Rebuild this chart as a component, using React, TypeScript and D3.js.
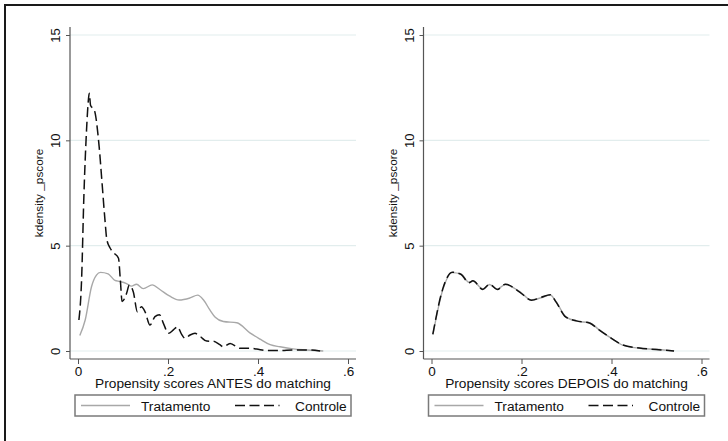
import React, { useRef, useEffect } from 'react';
import * as d3 from 'd3';

type Pt = [number, number];

// kernel density estimates: [pscore, density]
const tratamentoAntes: Pt[] = [
  [0.004, 0.74], [0.016, 1.47], [0.030, 3.05], [0.041, 3.6], [0.050, 3.73], [0.067, 3.66],
  [0.082, 3.35], [0.093, 3.3], [0.108, 3.2], [0.119, 3.08], [0.130, 3.17], [0.145, 2.96],
  [0.165, 3.14], [0.182, 2.92], [0.204, 2.6], [0.225, 2.42], [0.249, 2.52], [0.266, 2.65],
  [0.279, 2.42], [0.293, 1.95], [0.305, 1.6], [0.323, 1.4], [0.353, 1.34], [0.382, 0.86],
  [0.405, 0.56], [0.427, 0.3], [0.449, 0.2], [0.478, 0.1], [0.508, 0.05], [0.545, 0.0],
];

const controleAntes: Pt[] = [
  [0.002, 1.47], [0.008, 3.4], [0.013, 7.3], [0.019, 10.5], [0.023, 11.9], [0.025, 12.23],
  [0.028, 11.65], [0.036, 11.45], [0.047, 9.7], [0.053, 8.1], [0.060, 6.2], [0.064, 5.3],
  [0.071, 4.9], [0.080, 4.65], [0.090, 4.4], [0.094, 3.4], [0.098, 2.35], [0.108, 2.74],
  [0.114, 3.13], [0.123, 2.8], [0.132, 1.86], [0.141, 2.1], [0.149, 1.86], [0.160, 1.23],
  [0.171, 1.63], [0.181, 1.72], [0.190, 1.3], [0.201, 0.84], [0.212, 1.0], [0.221, 1.15],
  [0.230, 0.8], [0.238, 0.6], [0.249, 0.76], [0.260, 0.84], [0.271, 0.7], [0.286, 0.47],
  [0.301, 0.46], [0.315, 0.3], [0.323, 0.2], [0.338, 0.36], [0.360, 0.13], [0.382, 0.13],
  [0.397, 0.09], [0.419, 0.02], [0.449, 0.02], [0.478, 0.05], [0.508, 0.05], [0.538, 0.0],
];

const tratamentoDepois: Pt[] = [
  [0.003, 0.76], [0.025, 2.9], [0.046, 3.72], [0.066, 3.65], [0.083, 3.26], [0.092, 3.32],
  [0.114, 2.94], [0.129, 3.16], [0.146, 2.93], [0.164, 3.16], [0.196, 2.82], [0.222, 2.42],
  [0.244, 2.53], [0.264, 2.66], [0.277, 2.34], [0.298, 1.63], [0.322, 1.42], [0.351, 1.34],
  [0.373, 1.0], [0.400, 0.6], [0.425, 0.28], [0.462, 0.13], [0.499, 0.08], [0.539, 0.0],
];

const controleDepois: Pt[] = [
  [0.003, 0.8], [0.025, 2.95], [0.046, 3.74], [0.066, 3.63], [0.083, 3.24], [0.092, 3.33],
  [0.114, 2.92], [0.129, 3.17], [0.146, 2.92], [0.164, 3.17], [0.196, 2.8], [0.222, 2.41],
  [0.244, 2.55], [0.264, 2.67], [0.277, 2.32], [0.298, 1.62], [0.322, 1.43], [0.351, 1.33],
  [0.373, 0.99], [0.400, 0.6], [0.425, 0.29], [0.462, 0.14], [0.499, 0.07], [0.539, 0.0],
];

const xTicks = [0, 0.2, 0.4, 0.6];
const yTicks = [0, 5, 10, 15];
const panelTitles = ['Propensity scores ANTES do matching', 'Propensity scores DEPOIS do matching'];
const legendLabels = ['Tratamento', 'Controle'];
const yTitle = 'kdensity _pscore';

const FONT = "'Liberation Sans', Arial, sans-serif";

const App: React.FC = () => {
  const svgRef = useRef<SVGSVGElement | null>(null);

  useEffect(() => {
    if (!svgRef.current) return;
    const svg = d3.select(svgRef.current);
    svg.selectAll('*').remove();

    // outer frame (only top and left edges visible)
    svg.append('rect')
      .attr('x', 5).attr('y', 5).attr('width', 760).attr('height', 460)
      .attr('fill', 'none').attr('stroke', '#1a1a1a').attr('stroke-width', 2);

    const xFmt = (d: d3.NumberValue) => (+d === 0 ? '0' : d3.format('.1f')(+d).replace(/^0/, ''));

    const drawPanel = (dx: number, trat: Pt[], ctrl: Pt[], title: string) => {
      const g = svg.append('g').attr('transform', `translate(${dx},0)`);
      const x = d3.scaleLinear().domain([0, 0.6]).range([78, 348]);
      const y = d3.scaleLinear().domain([0, 15]).range([351, 35]);
      const left = 70, right = 356, bottom = 359, top = 27;

      g.selectAll('line.grid').data(yTicks).join('line')
        .attr('class', 'grid')
        .attr('x1', left).attr('x2', right)
        .attr('y1', (d) => y(d)).attr('y2', (d) => y(d))
        .attr('stroke', '#e2eded').attr('stroke-width', 1.2);

      const ya = g.append('g').attr('transform', `translate(${left},0)`)
        .call(d3.axisLeft(y).tickValues(yTicks).tickSize(4).tickFormat(d3.format('d')));
      ya.select('.domain').remove();
      ya.attr('font-family', FONT).attr('font-size', 13);
      ya.selectAll('.tick line').attr('stroke', '#555');
      ya.selectAll('.tick text')
        .attr('x', null).attr('dy', null)
        .attr('text-anchor', 'middle')
        .attr('transform', 'translate(-10,0) rotate(-90)')
        .attr('fill', '#111');

      const xa = g.append('g').attr('transform', `translate(0,${bottom})`)
        .call(d3.axisBottom(x).tickValues(xTicks).tickSize(5).tickPadding(2).tickFormat(xFmt));
      xa.select('.domain').remove();
      xa.attr('font-family', FONT).attr('font-size', 13.5);
      xa.selectAll('.tick line').attr('stroke', '#555');
      xa.selectAll('.tick text').attr('fill', '#111');

      g.append('line').attr('x1', left).attr('x2', left).attr('y1', top).attr('y2', bottom)
        .attr('stroke', '#555').attr('stroke-width', 1.2);
      g.append('line').attr('x1', left).attr('x2', right).attr('y1', bottom).attr('y2', bottom)
        .attr('stroke', '#555').attr('stroke-width', 1.2);

      const line = d3.line<Pt>()
        .x((d) => x(d[0]))
        .y((d) => y(d[1]))
        .curve(d3.curveMonotoneX);

      g.append('path').datum(trat)
        .attr('fill', 'none').attr('stroke', '#a8a8a8').attr('stroke-width', 1.4)
        .attr('d', line);
      g.append('path').datum(ctrl)
        .attr('fill', 'none').attr('stroke', '#111').attr('stroke-width', 1.5)
        .attr('stroke-dasharray', '10,4.5')
        .attr('d', line);

      g.append('text')
        .attr('x', (left + right) / 2).attr('y', 388)
        .attr('text-anchor', 'middle')
        .attr('font-family', FONT).attr('font-size', 13.7).attr('fill', '#111')
        .text(title);

      g.append('text')
        .attr('transform', `translate(43,${(y(0) + y(15)) / 2}) rotate(-90)`)
        .attr('text-anchor', 'middle')
        .attr('font-family', FONT).attr('font-size', 11.8).attr('fill', '#111')
        .text(yTitle);

      // legend
      const lg = g.append('g');
      lg.append('rect').attr('x', 75).attr('y', 395).attr('width', 276).attr('height', 21)
        .attr('fill', '#fff').attr('stroke', '#7a7a7a').attr('stroke-width', 1.5);
      lg.append('line').attr('x1', 81).attr('x2', 130).attr('y1', 405.5).attr('y2', 405.5)
        .attr('stroke', '#a8a8a8').attr('stroke-width', 1.4);
      lg.append('line').attr('x1', 235).attr('x2', 279.5).attr('y1', 405.5).attr('y2', 405.5)
        .attr('stroke', '#111').attr('stroke-width', 1.5).attr('stroke-dasharray', '10,4.5');
      lg.selectAll('text.leg').data(legendLabels).join('text')
        .attr('class', 'leg')
        .attr('x', (_, i) => (i === 0 ? 141 : 295)).attr('y', 410.5)
        .attr('font-family', FONT).attr('font-size', 13.7).attr('fill', '#111')
        .text((d) => d);
    };

    drawPanel(0, tratamentoAntes, controleAntes, panelTitles[0]);
    drawPanel(353.5, tratamentoDepois, controleDepois, panelTitles[1]);
  }, []);

  return (
    <svg
      ref={svgRef}
      width={728}
      height={441}
      style={{ position: 'absolute', left: 0, top: 0, background: '#fff' }}
    />
  );
};

export default App;
